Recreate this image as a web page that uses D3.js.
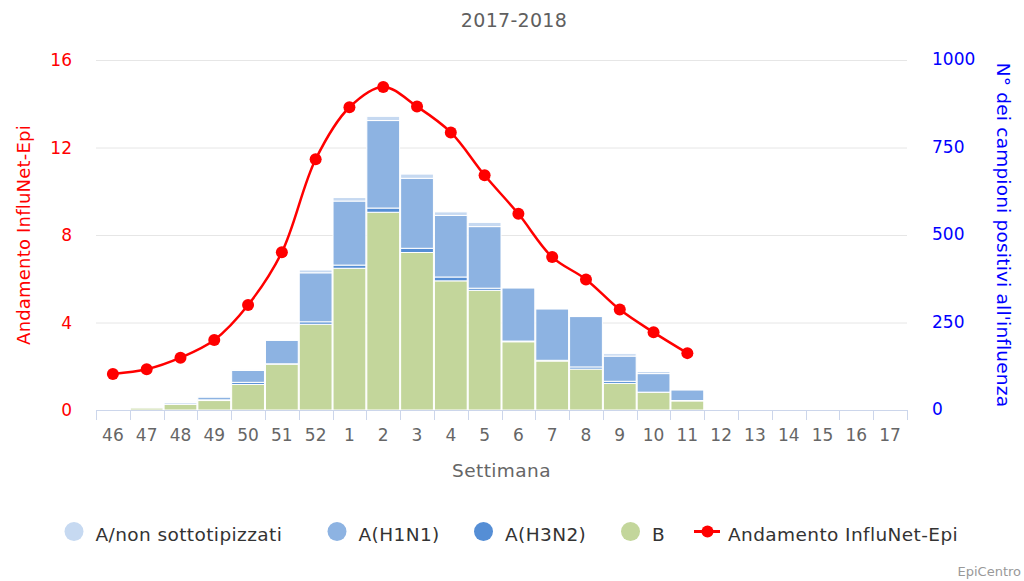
<!DOCTYPE html>
<html>
<head>
<meta charset="utf-8">
<script src="https://cdn.jsdelivr.net/npm/d3@7"></script>
<style>
  body { margin: 0; background: #fff; }
  svg text { font-family: "DejaVu Sans", Verdana, sans-serif; }
</style>
</head>
<body>
<div id="chart"></div>
<script>
// weeks of the 2017-2018 season
var weeks = ["46","47","48","49","50","51","52","1","2","3","4","5","6","7","8","9","10","11","12","13","14","15","16","17"];

// positive samples per type (right axis)
var nonSub = [0, 0, 2, 3, 3, 1, 8, 10, 12, 12, 10, 12, 1, 1, 1, 7, 6, 0, 0, 0, 0, 0, 0, 0];
var h1n1   = [0, 1, 4, 8, 34, 67, 140, 183, 250, 200, 176, 176, 152, 147, 144, 72, 53, 30, 0, 0, 0, 0, 0, 0];
var h3n2   = [0, 0, 1, 2, 6, 1, 7, 9, 12, 12, 11, 6, 2, 2, 6, 6, 1, 1, 0, 0, 0, 0, 0, 0];
var typeB  = [0, 6, 16, 27, 73, 131, 245, 405, 565, 450, 369, 342, 195, 140, 117, 76, 50, 26, 0, 0, 0, 0, 0, 0];

// InfluNet-Epi incidence (left axis)
var epi = [1.65, 1.86, 2.39, 3.2, 4.8, 7.21, 11.46, 13.84, 14.77, 13.87, 12.69, 10.73, 8.97, 6.99, 5.97, 4.59, 3.55, 2.6];

var leftTicks = [0, 4, 8, 12, 16];
var rightTicks = [0, 250, 500, 750, 1000];

var width = 1024, height = 581;
var margin = {left: 96, right: 117, top: 60, bottom: 171};
var plotW = width - margin.left - margin.right;
var plotH = height - margin.top - margin.bottom;

var series = [
  {name: "B", values: typeB, color: "#c3d69b"},
  {name: "A(H3N2)", values: h3n2, color: "#558ed5"},
  {name: "A(H1N1)", values: h1n1, color: "#8db3e2"},
  {name: "A/non sottotipizzati", values: nonSub, color: "#c6d9f1"}
];

var svg = d3.select("#chart").append("svg")
  .attr("width", width)
  .attr("height", height);

var g = svg.append("g")
  .attr("transform", "translate(" + margin.left + "," + margin.top + ")");

var x = d3.scaleBand().domain(weeks).range([0, plotW]).padding(0);
var yLeft = d3.scaleLinear().domain([0, 16]).range([plotH, 0]);
var yRight = d3.scaleLinear().domain([0, 1000]).range([plotH, 0]);

// grid
g.selectAll(".grid").data(leftTicks.slice(1)).enter()
  .append("line")
  .attr("x1", 0).attr("x2", plotW)
  .attr("y1", function(d){ return yLeft(d) + 0.5; })
  .attr("y2", function(d){ return yLeft(d) + 0.5; })
  .attr("stroke", "#e6e6e6");

// stacked bars
var table = weeks.map(function(w, i) {
  var row = {week: w};
  series.forEach(function(s){ row[s.name] = s.values[i]; });
  return row;
});
var stack = d3.stack().keys(series.map(function(s){ return s.name; }));
var layers = stack(table);

g.selectAll(".layer").data(layers).enter()
  .append("g")
  .attr("fill", function(d, i){ return series[i].color; })
  .selectAll("rect")
  .data(function(d){ return d; })
  .enter()
  .append("rect")
  .filter(function(d){ return d[1] - d[0] > 0; })
  .attr("x", function(d){ return x(d.data.week) + 0.5; })
  .attr("width", x.bandwidth() - 1)
  .attr("y", function(d){ return yRight(d[1]); })
  .attr("height", function(d){ return yRight(d[0]) - yRight(d[1]); })
  .attr("stroke", "#fff")
  .attr("stroke-width", 1);

// x axis
var xg = g.append("g")
  .attr("transform", "translate(0," + plotH + ")");
xg.selectAll("text").data(weeks).enter()
  .append("text")
  .attr("x", function(d){ return x(d) + x.bandwidth() / 2; })
  .attr("y", 31)
  .attr("text-anchor", "middle")
  .attr("fill", "#666")
  .style("font-size", "17px")
  .text(function(d){ return d; });
g.append("line")
  .attr("x1", 0).attr("x2", plotW)
  .attr("y1", plotH + 0.5).attr("y2", plotH + 0.5)
  .attr("stroke", "#ccd6eb");
var bounds = weeks.map(function(w){ return x(w); }).concat([plotW]);
g.selectAll(".xtick").data(bounds).enter()
  .append("line")
  .attr("x1", function(d){ return Math.round(d) + 0.5; })
  .attr("x2", function(d){ return Math.round(d) + 0.5; })
  .attr("y1", plotH).attr("y2", plotH + 10)
  .attr("stroke", "#ccd6eb");

// left axis
g.selectAll(".lt").data(leftTicks).enter()
  .append("text")
  .attr("x", -24)
  .attr("y", function(d){ return yLeft(d) + 6; })
  .attr("text-anchor", "end")
  .attr("fill", "#ff0000")
  .style("font-size", "17px")
  .text(function(d){ return d; });

// right axis
g.selectAll(".rt").data(rightTicks).enter()
  .append("text")
  .attr("x", plotW + 25)
  .attr("y", function(d){ return yRight(d) + 5; })
  .attr("text-anchor", "start")
  .attr("fill", "#0000ff")
  .style("font-size", "17px")
  .text(function(d){ return d; });

// line
var line = d3.line()
  .x(function(d, i){ return x(weeks[i]) + x.bandwidth() / 2; })
  .y(function(d){ return yLeft(d); })
  .curve(d3.curveCatmullRom.alpha(0.5));

g.append("path")
  .datum(epi)
  .attr("d", line)
  .attr("fill", "none")
  .attr("stroke", "#ff0000")
  .attr("stroke-width", 2.5);

g.selectAll(".dot").data(epi).enter()
  .append("circle")
  .attr("cx", function(d, i){ return x(weeks[i]) + x.bandwidth() / 2; })
  .attr("cy", function(d){ return yLeft(d); })
  .attr("r", 6)
  .attr("fill", "#ff0000");

// titles
svg.append("text")
  .attr("x", 514).attr("y", 27)
  .attr("text-anchor", "middle")
  .attr("fill", "#5f5f5f")
  .style("font-size", "19px")
  .style("letter-spacing", "0.3px")
  .text("2017-2018");

svg.append("text")
  .attr("transform", "translate(30," + (margin.top + plotH / 2) + ") rotate(-90)")
  .attr("text-anchor", "middle")
  .attr("fill", "#ff0000")
  .style("font-size", "18px")
  .style("letter-spacing", "0.2px")
  .text("Andamento InfluNet-Epi");

svg.append("text")
  .attr("transform", "translate(997," + (margin.top + plotH / 2) + ") rotate(90)")
  .attr("text-anchor", "middle")
  .attr("fill", "#0000ff")
  .style("font-size", "18.5px")
  .style("letter-spacing", "0.2px")
  .text("N° dei campioni positivi all'influenza");

svg.append("text")
  .attr("x", margin.left + plotW / 2).attr("y", 477)
  .attr("text-anchor", "middle")
  .attr("fill", "#666")
  .style("font-size", "18.5px")
  .style("letter-spacing", "0.4px")
  .text("Settimana");

// legend
var legendItems = [
  {name: "A/non sottotipizzati", color: "#c6d9f1", cx: 74},
  {name: "A(H1N1)", color: "#8db3e2", cx: 337},
  {name: "A(H3N2)", color: "#558ed5", cx: 483.5},
  {name: "B", color: "#c3d69b", cx: 630.5}
];
var lg = svg.append("g").attr("transform", "translate(0,531.5)");
lg.selectAll(".li").data(legendItems).enter()
  .append("circle")
  .attr("cx", function(d){ return d.cx; })
  .attr("cy", 0)
  .attr("r", 9.5)
  .attr("fill", function(d){ return d.color; });
lg.selectAll(".lt").data(legendItems).enter()
  .append("text")
  .attr("x", function(d){ return d.cx + 21.5; })
  .attr("y", 9.5)
  .attr("fill", "#333")
  .style("font-size", "18.5px")
  .style("letter-spacing", "0.4px")
  .text(function(d){ return d.name; });
lg.append("line")
  .attr("x1", 694).attr("x2", 720)
  .attr("y1", 0).attr("y2", 0)
  .attr("stroke", "#ff0000").attr("stroke-width", 3);
lg.append("circle")
  .attr("cx", 707.5).attr("cy", 0).attr("r", 6)
  .attr("fill", "#ff0000");
lg.append("text")
  .attr("x", 728).attr("y", 9.5)
  .attr("fill", "#333")
  .style("font-size", "18.5px")
  .style("letter-spacing", "0.4px")
  .text("Andamento InfluNet-Epi");

svg.append("text")
  .attr("x", 1021).attr("y", 576)
  .attr("text-anchor", "end")
  .attr("fill", "#999")
  .style("font-size", "13px")
  .text("EpiCentro");
</script>
</body>
</html>
